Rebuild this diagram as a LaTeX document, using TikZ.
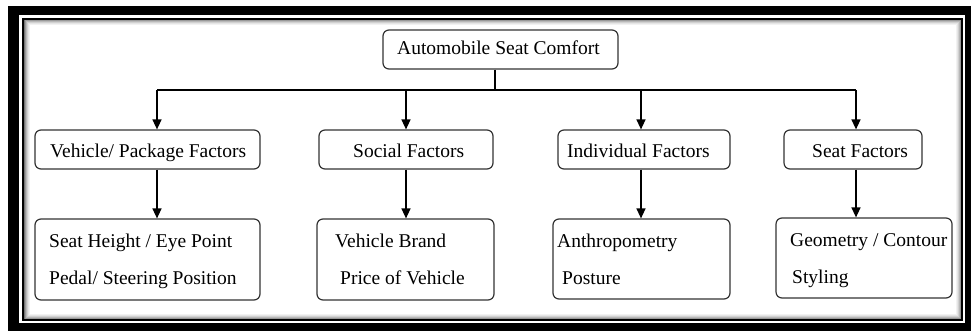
\documentclass[tikz,border=0pt]{standalone}
\usepackage{fontspec}
\setmainfont{Liberation Serif}
\usetikzlibrary{arrows.meta}
\begin{document}
\begin{tikzpicture}[x=1pt,y=-1pt,
  box/.style={draw=black!80,line width=1.2pt,rounded corners=6pt,fill=white,inner sep=0pt},
  txt/.style={anchor=base west,inner sep=0pt,font=\fontsize{19.5}{22}\selectfont},
  ln/.style={line width=1.4pt,black},
  arr/.style={line width=1.4pt,black,-{Triangle[width=9pt,length=10pt]}}]
\useasboundingbox (0,0) rectangle (971,331);
\fill[white] (0,0) rectangle (971,331);
% frame
\fill[black] (8,6) rectangle (971,331);
\fill[white] (19,15) rectangle (965,323);
\foreach \i/\c in {1/55,2/40,3/28,4/18,5/10,6/5}{
  \draw[black!\c,line width=1pt] (23+\i,19+\i) rectangle (962-\i,320-\i);
}
\draw[black,line width=2pt] (23,19) rectangle (962,320);
% boxes
\node[box,minimum width=235pt,minimum height=39pt] (top) at (500.5,49.5) {};
\node[box,minimum width=225pt,minimum height=39pt] (vp) at (147.5,149.5) {};
\node[box,minimum width=174pt,minimum height=39pt] (sf) at (406,149.5) {};
\node[box,minimum width=172pt,minimum height=39pt] (if) at (644,149.5) {};
\node[box,minimum width=138pt,minimum height=39pt] (stf) at (853,149.5) {};
\node[box,minimum width=225pt,minimum height=81pt] (r1) at (147.5,259.5) {};
\node[box,minimum width=177pt,minimum height=81pt] (r2) at (405.5,259.5) {};
\node[box,minimum width=177pt,minimum height=80pt] (r3) at (641.5,259) {};
\node[box,minimum width=176pt,minimum height=80pt] (r4) at (864,258) {};
% texts
\node[txt] (ttop) at (397,55) {Automobile Seat Comfort};
\node[txt] (tvp) at (50,158) {Vehicle/ Package Factors};
\node[txt] (tsf) at (353,158) {Social Factors};
\node[txt] (tif) at (567,158) {Individual Factors};
\node[txt] (tstf) at (812,158) {Seat Factors};
\node[txt] (t1a) at (49,247) {Seat Height / Eye Point};
\node[txt] (t1b) at (49,284) {Pedal/ Steering Position};
\node[txt] (t2a) at (335,247) {Vehicle Brand};
\node[txt] (t2b) at (340,284) {Price of Vehicle};
\node[txt] (t3a) at (557,247) {Anthropometry};
\node[txt] (t3b) at (562,284) {Posture};
\node[txt] (t4a) at (790,246) {Geometry / Contour};
\node[txt] (t4b) at (792,283) {Styling};
% connectors
\coordinate (j) at (495,90);
\coordinate (b1) at (157,90);
\coordinate (b2) at (406,90);
\coordinate (b3) at (641,90);
\coordinate (b4) at (856,90);
\draw[ln] (top.south -| j) -- (j);
\draw[ln] (b1) -- (b4);
\draw[arr] (b1) -- (b1 |- vp.north);
\draw[arr] (b2) -- (b2 |- sf.north);
\draw[arr] (b3) -- (b3 |- if.north);
\draw[arr] (b4) -- (b4 |- stf.north);
\draw[arr] (vp.south -| b1) -- (b1 |- r1.north);
\draw[arr] (sf.south -| b2) -- (b2 |- r2.north);
\draw[arr] (if.south -| b3) -- (b3 |- r3.north);
\draw[arr] (stf.south -| b4) -- (b4 |- r4.north);
\end{tikzpicture}
\end{document}
